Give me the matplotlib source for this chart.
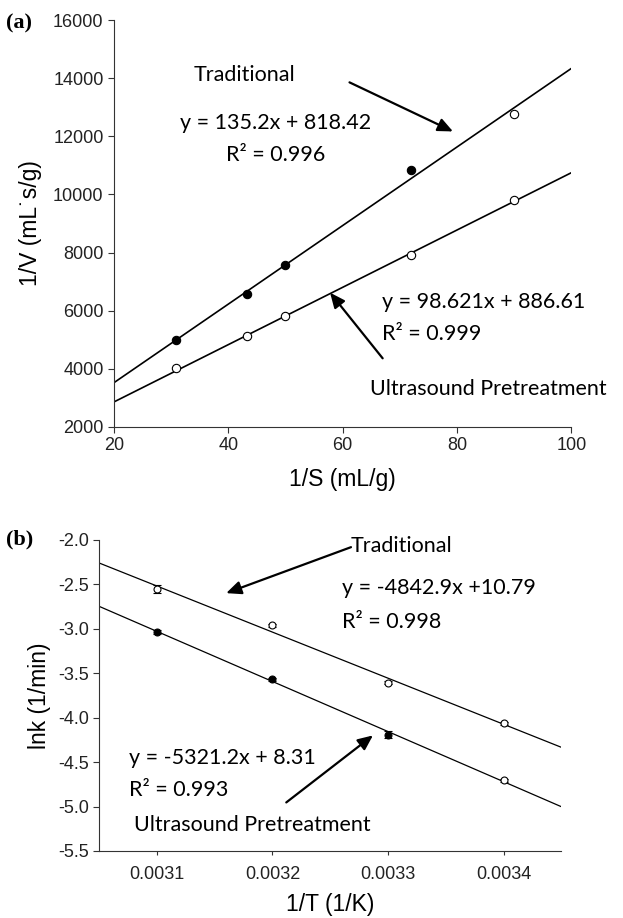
import numpy as np
import matplotlib
matplotlib.use("Agg")
import matplotlib.pyplot as plt

# ---- panel (a) data: Lineweaver-Burk ----
inv_s = [30.9, 43.3, 50.0, 72.0, 90.0]
trad_v = [4990, 6580, 7580, 10850, 12780]
ultra_v = [4010, 5140, 5800, 7930, 9820]
trad_filled = [True, True, True, True, False]
trad_coef = (135.2, 818.42)
ultra_coef = (98.621, 886.61)

# ---- panel (b) data: Arrhenius ----
inv_t = [0.0031, 0.0032, 0.0033, 0.0034]
trad_lnk = [-2.553, -2.963, -3.607, -4.066]
trad_err = [0.04, 0.02, 0.02, 0.02]
ultra_lnk = [-3.035, -3.569, -4.190, -4.706]
ultra_err = [0.02, 0.02, 0.04, 0.02]
ultra_filled = [True, True, True, False]

tick_font = "Liberation Sans"
note_font = "Lato"
tick_size = 13
label_size = 16.5
note_size = 15.5

fig = plt.figure(figsize=(6.23, 9.18), dpi=100)
ax1 = fig.add_axes([0.183, 0.535, 0.734, 0.443])
ax2 = fig.add_axes([0.159, 0.073, 0.742, 0.339])

for ax in (ax1, ax2):
    ax.spines["top"].set_visible(False)
    ax.spines["right"].set_visible(False)
    ax.spines["left"].set_color("#333333")
    ax.spines["bottom"].set_color("#333333")
    ax.tick_params(direction="out", length=4, width=0.8, color="#333333",
                   labelsize=tick_size, labelcolor="#222222")

arrow = dict(arrowstyle="-|>,head_length=0.9,head_width=0.4", color="black",
             lw=1.6, shrinkA=0, shrinkB=0)

# ---- (a) ----
xl = np.array([20, 100])
ax1.plot(xl, trad_coef[0] * xl + trad_coef[1], color="black", lw=1.2)
ax1.plot(xl, ultra_coef[0] * xl + ultra_coef[1], color="black", lw=1.2)
for x, y, f in zip(inv_s, trad_v, trad_filled):
    ax1.plot(x, y, "o", ms=6, mec="black", mew=0.8,
             mfc="black" if f else "white", zorder=3)
ax1.plot(inv_s, ultra_v, "o", ms=6, mec="black", mew=0.8, mfc="white", zorder=3)
ax1.set_xlim(20, 100)
ax1.set_ylim(2000, 16000)
ax1.set_xticks([20, 40, 60, 80, 100])
ax1.set_yticks(range(2000, 16001, 2000))
ax1.set_xlabel("1/S (mL/g)", family=tick_font, fontsize=label_size, labelpad=10)
ax1.set_ylabel("1/V (mL\u02d9s/g)", family=tick_font, fontsize=label_size,
               labelpad=8)
for lab in ax1.get_xticklabels() + ax1.get_yticklabels():
    lab.set_family(tick_font)

ax1.text(34, 14130, "Traditional", family=note_font, fontsize=note_size,
         va="center")
ax1.text(48.2, 12460, "y = 135.2x + 818.42", family=note_font, fontsize=note_size,
         va="center", ha="center")
ax1.text(48.2, 11370, "R\u00b2 = 0.996", family=note_font, fontsize=note_size,
         va="center", ha="center")
ax1.annotate("", xy=(79.3, 12170), xytext=(61.2, 13860), arrowprops=arrow)
ax1.text(66.9, 6310, "y = 98.621x + 886.61", family=note_font, fontsize=note_size,
         va="center")
ax1.text(66.9, 5190, "R\u00b2 = 0.999", family=note_font, fontsize=note_size,
         va="center")
ax1.annotate("", xy=(57.8, 6620), xytext=(67.0, 4360), arrowprops=arrow)
ax1.text(64.8, 3320, "Ultrasound Pretreatment", family=note_font,
         fontsize=note_size, va="center", clip_on=False)
fig.text(0.01, 0.974, "(a)", family="Liberation Serif", fontweight="bold",
         fontsize=16, va="center")

# ---- (b) ----
xb = np.array([0.00305, 0.00345])
p_t = np.polyfit(inv_t, trad_lnk, 1)
p_u = np.polyfit(inv_t, ultra_lnk, 1)
ax2.plot(xb, np.polyval(p_t, xb), color="black", lw=0.9)
ax2.plot(xb, np.polyval(p_u, xb), color="black", lw=0.9)
ax2.errorbar(inv_t, trad_lnk, yerr=trad_err, fmt="none", ecolor="black",
             elinewidth=0.8, capsize=3, capthick=0.8)
ax2.errorbar(inv_t, ultra_lnk, yerr=ultra_err, fmt="none", ecolor="black",
             elinewidth=0.8, capsize=3, capthick=0.8)
ax2.plot(inv_t, trad_lnk, "o", ms=5, mec="black", mew=0.8, mfc="white", zorder=3)
for x, y, f in zip(inv_t, ultra_lnk, ultra_filled):
    ax2.plot(x, y, "o", ms=5, mec="black", mew=0.8,
             mfc="black" if f else "white", zorder=3)
ax2.set_xlim(0.00305, 0.00345)
ax2.set_ylim(-5.5, -2.0)
ax2.set_xticks(inv_t)
ax2.set_xticklabels(["0.0031", "0.0032", "0.0033", "0.0034"], family=tick_font,
                    fontsize=tick_size)
ax2.set_yticks(np.arange(-5.5, -1.99, 0.5))
ax2.set_yticklabels([f"{v:.1f}" for v in np.arange(-5.5, -1.99, 0.5)],
                    family=tick_font, fontsize=tick_size)
ax2.tick_params(axis="x", length=3, pad=8)
ax2.set_xlabel("1/T (1/K)", family=tick_font, fontsize=label_size, labelpad=7)
ax2.set_ylabel("lnk (1/min)", family=tick_font, fontsize=label_size, labelpad=5)

ax2.text(0.003268, -2.07, "Traditional", family=note_font, fontsize=note_size,
         va="center")
ax2.annotate("", xy=(0.003160, -2.60), xytext=(0.003268, -2.083),
             arrowprops=arrow)
ax2.text(0.00326, -2.54, "y = -4842.9x +10.79", family=note_font,
         fontsize=note_size, va="center")
ax2.text(0.00326, -2.92, "R\u00b2 = 0.998", family=note_font, fontsize=note_size,
         va="center")
ax2.text(0.003076, -4.45, "y = -5321.2x + 8.31", family=note_font,
         fontsize=note_size, va="center")
ax2.text(0.003076, -4.815, "R\u00b2 = 0.993", family=note_font,
         fontsize=note_size, va="center")
ax2.annotate("", xy=(0.003287, -4.20), xytext=(0.003212, -4.954),
             arrowprops=arrow)
ax2.text(0.00308, -5.21, "Ultrasound Pretreatment", family=note_font,
         fontsize=note_size, va="center")
fig.text(0.01, 0.412, "(b)", family="Liberation Serif", fontweight="bold",
         fontsize=16, va="center")

fig.savefig("out.png", dpi=100)
